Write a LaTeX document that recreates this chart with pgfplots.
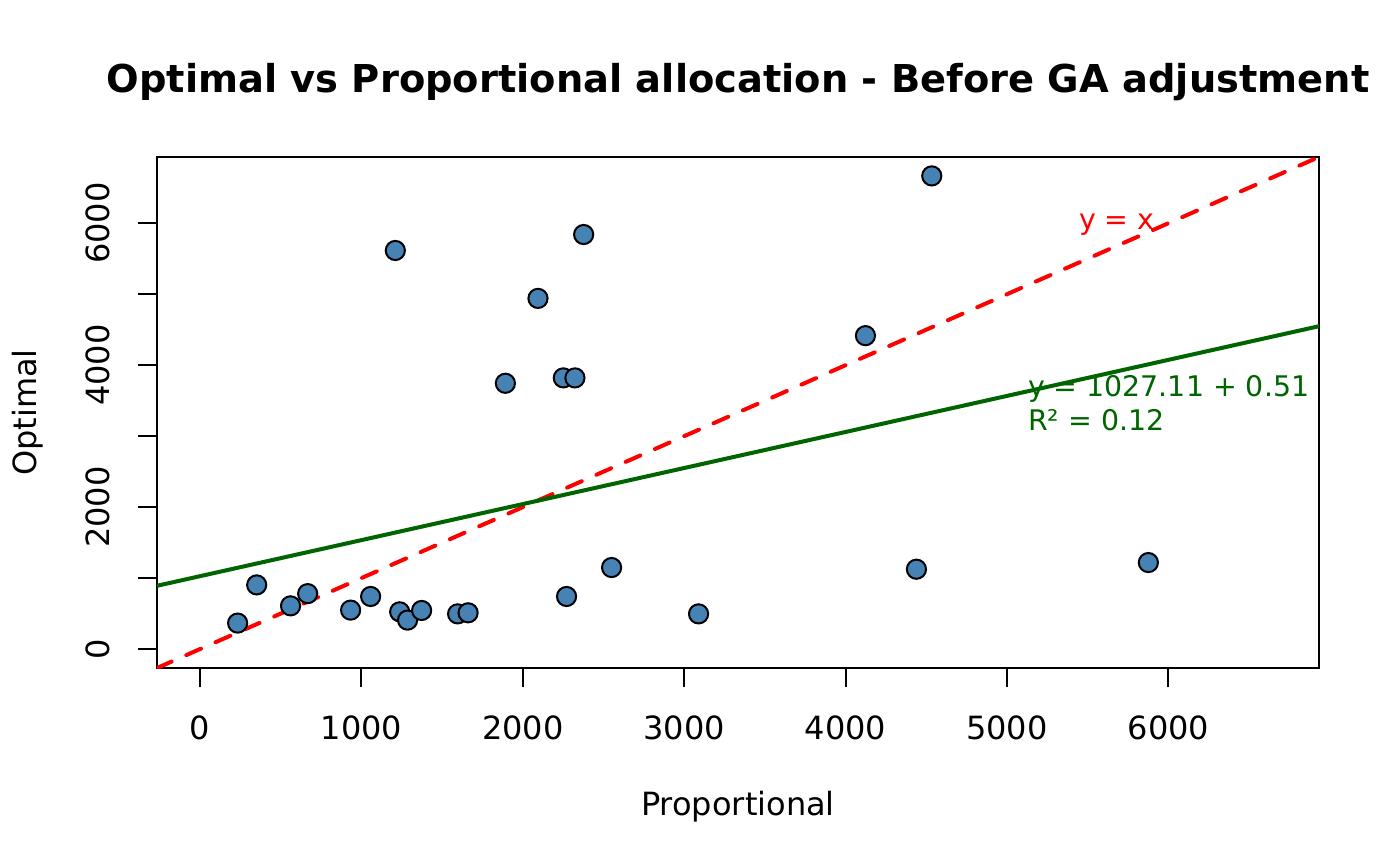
\documentclass[border=0pt]{standalone}
\usepackage{pgfplots}
\pgfplotsset{compat=1.18}
\usepackage{fontspec}
\setmainfont{DejaVu Sans}
\definecolor{steelblue}{RGB}{70,130,180}
\definecolor{dkgreen}{RGB}{0,100,0}
\begin{document}
\begin{tikzpicture}
\useasboundingbox (-78.5pt,-98.5pt) rectangle (621.5pt,334pt);
\begin{axis}[
  at={(0,0)}, anchor=south west,
  scale only axis, width=581pt, height=255.5pt,
  xmin=-266.7, xmax=6933.3, ymin=-266.7, ymax=6933.3,
  axis line style={line width=1pt},
  xtick={0,1000,2000,3000,4000,5000,6000},
  xticklabels={0,1000,2000,3000,4000,5000,6000},
  ytick={0,1000,2000,3000,4000,5000,6000},
  yticklabels={0,,2000,,4000,,6000},
  tick pos=left,
  tick align=outside, major tick length=9.5pt,
  tick style={line width=1pt, black},
  ticklabel style={font=\fontsize{16}{19}\selectfont},
  xticklabel style={anchor=base, yshift=-26pt},
  yticklabel style={xshift=-14pt, rotate=90, anchor=base},
  xlabel={Proportional},
  ylabel={Optimal},
  label style={font=\fontsize{16}{19}\selectfont},
  x label style={at={([yshift=-73.5pt]axis description cs:0.5,0)}, anchor=base},
  y label style={at={([xshift=-60.4pt]axis description cs:0,0.5)}, anchor=base, rotate=0},
  title={\bfseries Optimal vs Proportional allocation - Before GA adjustment},
  title style={font=\fontsize{19.2}{23}\selectfont, at={([yshift=26pt]axis description cs:0.5,1)}, anchor=base},
  clip=true,
]
\addplot[only marks, mark=*, mark size=4.8pt, mark options={fill=steelblue, draw=black, line width=1pt}] coordinates {
(233,366) (351,904) (561,609) (667,781) (933,549) (1057,741)
(1210,5616) (1237,525) (1286,408) (1373,544) (1596,496) (1661,511)
(1892,3745) (2094,4941) (2251,3821) (2271,741) (2323,3821) (2377,5841)
(2550,1149) (3089,496) (4123,4416) (4439,1125) (4534,6667) (5876,1219)
};
\addplot[red, line width=2pt, dash pattern=on 8pt off 8pt, line cap=round] coordinates {(-266.7,-266.7) (6933.3,6933.3)};
\addplot[dkgreen, line width=2pt] coordinates {(-266.7,891.6) (6933.3,4549)};
\node[text=red, anchor=base, font=\fontsize{14.2}{17}\selectfont] at (axis cs:5681,5907) {y = x};
\node[text=dkgreen, anchor=base west, font=\fontsize{14.2}{17}\selectfont, inner sep=0pt] at (axis cs:5128,3558) {y = 1027.11 + 0.51};
\node[text=dkgreen, anchor=base west, font=\fontsize{14.2}{17}\selectfont, inner sep=0pt] at (axis cs:5128,3080) {R² = 0.12};
\end{axis}
\end{tikzpicture}
\end{document}
